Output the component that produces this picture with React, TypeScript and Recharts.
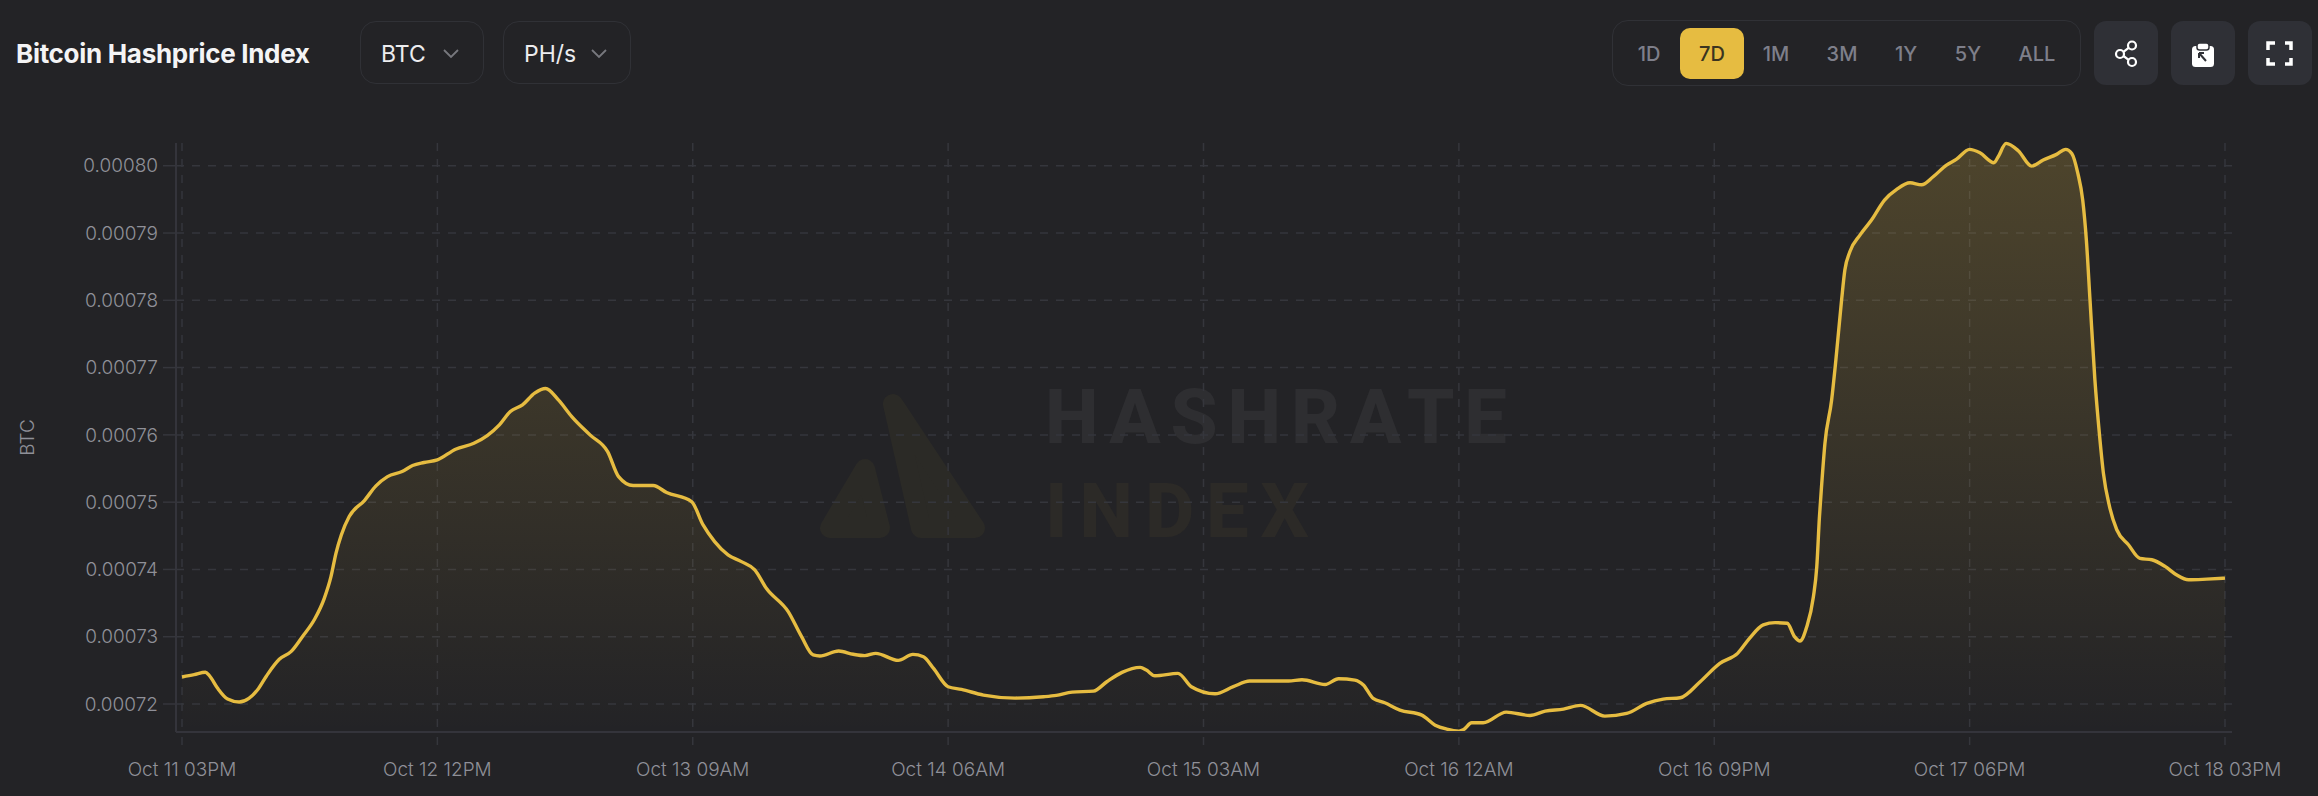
import { AreaChart, Area, XAxis, YAxis, CartesianGrid } from 'recharts';

const hours = [
  0, 1, 1.92, 2.25, 2.93, 3.75, 4.7, 5.5, 6.2, 6.96, 8, 8.96, 9.9, 10.9, 11.7, 12.25, 12.66, 13.1, 13.75, 15,
  15.95, 16.9, 18.1, 18.96, 19.9, 21, 22.5, 24, 25.1, 26.1, 27, 28, 29, 29.9, 30.95, 32.05, 33.55, 35, 35.9, 37.1,
  38.75, 39.85, 41.9, 42.85, 43.8, 44.9, 46, 47.1, 48.05, 49.85, 50.95, 51.9, 52.45, 54, 55.2, 56.15, 57.05, 58.9, 60.1, 60.97,
  61.8, 63, 64.1, 65.9, 68.5, 70.85, 71.9, 73.2, 74.95, 76.05, 77.3, 78.8, 79.3, 80, 81.9, 83, 84.95, 86.45, 87.8, 91,
  92.1, 94, 95.1, 96.45, 97.15, 97.95, 98.9, 100.15, 101.95, 103.05, 104, 105, 105.4, 106.05, 107, 108.9, 110.85, 112.1, 113.6, 115,
  117, 118.8, 120.45, 121.8, 123.2, 124.84, 126.46, 127.92, 128.9, 130.03, 131, 132, 132.6, 133.05, 133.6, 134.15, 134.43, 134.65, 134.84, 135.1,
  135.65, 136, 136.47, 136.74, 137.15, 137.98, 138.93, 140, 141, 142.1, 143.05, 144, 145.1, 145.9, 147, 147.85, 149, 149.35, 150, 151,
  152.1, 153.05, 154.15, 154.9, 155.4, 155.9, 156.3, 156.6, 156.9, 157.3, 157.68, 158, 158.5, 159.1, 160.06, 161, 161.98, 163.07, 164, 165,
  166.5, 168,
];

const hashprice = [
  0.00072402, 0.00072436, 0.00072471, 0.00072421, 0.00072233, 0.00072074, 0.0007203, 0.00072084, 0.00072208, 0.00072421,
  0.00072664, 0.00072778, 0.00073001, 0.00073259, 0.00073571, 0.00073893, 0.0007424, 0.00074513, 0.00074786, 0.00075024,
  0.00075242, 0.0007538, 0.00075455, 0.00075544, 0.00075589, 0.00075628, 0.00075787, 0.00075876, 0.0007599, 0.00076149,
  0.00076347, 0.00076446, 0.0007662, 0.00076689, 0.0007652, 0.00076273, 0.00076, 0.00075752, 0.0007538, 0.00075247,
  0.00075247, 0.00075143, 0.00075009, 0.00074662, 0.00074414, 0.00074216, 0.00074116, 0.00073993, 0.0007372, 0.00073373,
  0.00073001, 0.00072729, 0.00072714, 0.00072788, 0.00072739, 0.00072719, 0.00072753, 0.00072649, 0.00072737, 0.00072703,
  0.00072529, 0.00072257, 0.00072217, 0.00072133, 0.00072088, 0.00072108, 0.00072128, 0.00072177, 0.00072192, 0.00072331,
  0.0007247, 0.00072544, 0.00072504, 0.0007242, 0.00072455, 0.00072257, 0.00072152, 0.00072257, 0.00072341, 0.00072341,
  0.00072361, 0.00072291, 0.00072376, 0.00072356, 0.00072281, 0.00072083, 0.00072019, 0.0007191, 0.00071835, 0.00071686,
  0.00071627, 0.00071597, 0.00071622, 0.00071721, 0.00071721, 0.0007188, 0.0007183, 0.00071895, 0.00071924, 0.00071979,
  0.0007182, 0.0007186, 0.00072009, 0.00072073, 0.00072093, 0.00072332, 0.00072605, 0.00072753, 0.00072976, 0.00073175,
  0.00073209, 0.000732, 0.00073001, 0.00072937, 0.00073145, 0.00073591, 0.00074037, 0.0007478, 0.00075276, 0.00075871,
  0.00076515, 0.0007711, 0.00078002, 0.00078449, 0.00078721, 0.00078969, 0.00079192, 0.00079489, 0.00079648, 0.00079747,
  0.00079717, 0.00079836, 0.0008001, 0.00080094, 0.00080243, 0.00080193, 0.00080045, 0.00080134, 0.00080332, 0.00080223,
  0.00079995, 0.00080084, 0.00080169, 0.00080243, 0.00080183, 0.00079886, 0.00079489, 0.00078895, 0.00078002, 0.0007682,
  0.00076, 0.00075432, 0.00074937, 0.0007459, 0.00074367, 0.00074164, 0.00074144, 0.00074045, 0.00073921, 0.00073846,
  0.00073856, 0.00073871,
];

const xTicks = [0, 21, 42, 63, 84, 105, 126, 147, 168];
const xTickLabels = [
  'Oct 11 03PM', 'Oct 12 12PM', 'Oct 13 09AM', 'Oct 14 06AM', 'Oct 15 03AM',
  'Oct 16 12AM', 'Oct 16 09PM', 'Oct 17 06PM', 'Oct 18 03PM',
];
const yTicks = [0.00072, 0.00073, 0.00074, 0.00075, 0.00076, 0.00077, 0.00078, 0.00079, 0.0008];
const ranges = ['1D', '7D', '1M', '3M', '1Y', '5Y', 'ALL'];
const rangeCenters = [1649, 1712, 1776, 1842, 1906, 1968, 2037];

const data = hours.map((h, i) => ({ h, value: hashprice[i] }));

const BG = '#232326';
const YELLOW = '#E6BC41';
const GRID = '#35363c';
const AXIS = '#34343b';
const TICK = '#8f9098';
const FONT = 'Inter, sans-serif';

function Dropdown({ left, width, label, textLeft, chevronLeft }: { left: number; width: number; label: string; textLeft: number; chevronLeft: number }) {
  return (
    <div style={{ position: 'absolute', left, top: 21, width, height: 63, boxSizing: 'border-box', border: '1.5px solid #303136', borderRadius: 16 }}>
      <span style={{ position: 'absolute', left: textLeft - left, top: 0, lineHeight: '64px', fontSize: 23, color: '#ececee' }}>{label}</span>
      <svg style={{ position: 'absolute', left: chevronLeft - left, top: 27 }} width={16} height={10}>
        <path d="M1 1 L8 8 L15 1" fill="none" stroke="#77787e" strokeWidth={1.8} />
      </svg>
    </div>
  );
}

function IconButton({ left, children }: { left: number; children: React.ReactNode }) {
  return (
    <div style={{ position: 'absolute', left, top: 21, width: 64, height: 64, background: '#2f3036', borderRadius: 12 }}>
      <svg width={64} height={64}>{children}</svg>
    </div>
  );
}

export default function App() {
  return (
    <div style={{ position: 'absolute', left: 0, top: 0, width: 2318, height: 796, background: BG, fontFamily: FONT, overflow: 'hidden' }}>
      {/* watermark sits under the chart */}
      <svg style={{ position: 'absolute', left: 0, top: 0 }} width={2318} height={796}>
        <g fill="#2b2a26" stroke="#2b2a26" strokeWidth={20} strokeLinejoin="round">
          <polygon points="893,404 921,528 975,528" />
          <polygon points="865,469 830,528 880,528" />
        </g>
        <g fontFamily="Roboto, sans-serif" fontWeight={800} fontSize={76}>
          <text x={1045} y={443} textLength={462} lengthAdjust="spacing" fill="#2e2e31">HASHRATE</text>
          <text x={1045} y={537} textLength={264} lengthAdjust="spacing" fill="#2c2a27">INDEX</text>
        </g>
      </svg>

      <AreaChart
        width={2318}
        height={796}
        data={data}
        margin={{ top: 143, right: 86, bottom: 0, left: 0 }}
        style={{ position: 'absolute', left: 0, top: 0 }}
      >
        <defs>
          <linearGradient id="hashFill" x1="0" y1="0" x2="0" y2="1">
            <stop offset="0%" stopColor={YELLOW} stopOpacity={0.22} />
            <stop offset="100%" stopColor={YELLOW} stopOpacity={0} />
          </linearGradient>
        </defs>
        <CartesianGrid stroke={GRID} strokeWidth={1.5} strokeDasharray="8 8" horizontalValues={yTicks} verticalValues={xTicks} />
        <XAxis
          dataKey="h"
          type="number"
          domain={[0, 168]}
          ticks={xTicks}
          interval={0}
          height={64}
          padding={{ left: 6, right: 7 }}
          tickFormatter={(h) => xTickLabels[xTicks.indexOf(h)]}
          tick={{ fontSize: 19, fill: TICK, fontWeight: 300 }}
          tickSize={13}
          tickMargin={18}
          tickLine={{ stroke: GRID, strokeWidth: 1.5, strokeDasharray: '8 8' }}
          axisLine={{ stroke: AXIS, strokeWidth: 2 }}
        />
        <YAxis
          type="number"
          domain={[0.00071584, 0.00080338]}
          ticks={yTicks}
          interval={0}
          width={176}
          tickFormatter={(v) => Number(v).toFixed(5)}
          tick={{ fontSize: 19, fill: TICK, fontWeight: 300 }}
          tickSize={13}
          tickMargin={5}
          tickLine={{ stroke: GRID, strokeWidth: 1.5 }}
          axisLine={{ stroke: AXIS, strokeWidth: 2 }}
          label={{ value: 'BTC', angle: -90, position: 'insideLeft', offset: 27, style: { fontSize: 19, fill: TICK, fontWeight: 300, textAnchor: 'middle' } }}
        />
        <Area
          type="monotone"
          dataKey="value"
          stroke={YELLOW}
          strokeWidth={3.4}
          fill="url(#hashFill)"
          fillOpacity={1}
          dot={false}
          activeDot={false}
          isAnimationActive={false}
        />
      </AreaChart>

      <div style={{ position: 'absolute', left: 16, top: 0, lineHeight: '107px', fontSize: 26, fontWeight: 700, color: '#f4f4f5', letterSpacing: -0.3 }}>
        Bitcoin Hashprice Index
      </div>
      <Dropdown left={360} width={124} label="BTC" textLeft={380} chevronLeft={442} />
      <Dropdown left={503} width={128} label="PH/s" textLeft={523} chevronLeft={590} />

      <div style={{ position: 'absolute', left: 1612, top: 20, width: 469, height: 66, boxSizing: 'border-box', border: '1.5px solid #303136', borderRadius: 16 }} />
      <div style={{ position: 'absolute', left: 1680, top: 28, width: 64, height: 51, background: YELLOW, borderRadius: 10 }} />
      {ranges.map((r, i) => (
        <span
          key={r}
          style={{
            position: 'absolute',
            left: rangeCenters[i] - 40,
            width: 80,
            top: 28,
            lineHeight: '52px',
            textAlign: 'center',
            fontSize: 20,
            fontWeight: 500,
            color: r === '7D' ? '#3b3420' : '#7e7f8a',
          }}
        >
          {r}
        </span>
      ))}

      <IconButton left={2094}>
        <g fill="none" stroke="#fff" strokeWidth={2.2}>
          <circle cx={38} cy={24.5} r={4} />
          <circle cx={26} cy={33} r={4} />
          <circle cx={38} cy={41} r={4} />
          <path d="M29.5 30.8 L34.6 26.8 M29.5 35 L34.6 38.8" />
        </g>
      </IconButton>
      <IconButton left={2171}>
        <rect x={21} y={25} width={22} height={21} rx={3.5} fill="#fff" />
        <rect x={26} y={22} width={12} height={7} rx={2.5} fill="#fff" stroke="#2f3036" strokeWidth={1.5} />
        <path d="M28 32 L28 37 M28 32 L33 32 M28 32 L35 40" stroke="#2f3036" strokeWidth={2} fill="none" />
      </IconButton>
      <IconButton left={2248}>
        <path d="M20 29 L20 22 L27 22 M37 22 L43 22 L43 29 M43 37 L43 43 L37 43 M27 43 L20 43 L20 37" fill="none" stroke="#fff" strokeWidth={3.5} />
      </IconButton>
    </div>
  );
}
